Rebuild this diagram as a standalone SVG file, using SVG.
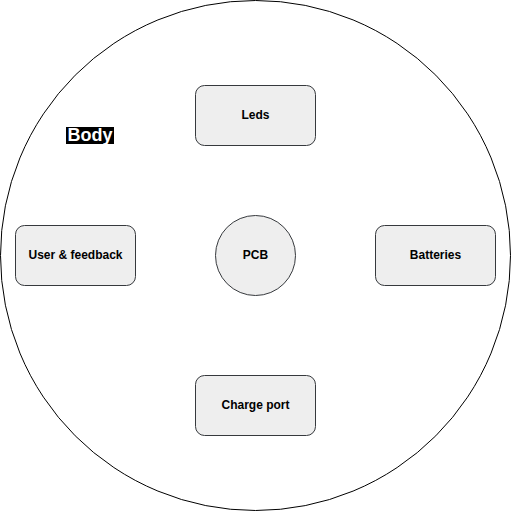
<svg xmlns="http://www.w3.org/2000/svg" width="511" height="511" viewBox="0 0 511 511">
<style>
.node{fill:#eeeeee;stroke:#36393d;stroke-width:1}
.lbl{font-family:"Liberation Sans",Arial,sans-serif;font-size:12px;font-weight:bold;fill:#000;text-anchor:middle;dominant-baseline:central}
</style>
<rect width="511" height="511" fill="#fff"/>
<g id="body">
<circle cx="255.5" cy="255.5" r="255" fill="#fff" stroke="#000" stroke-width="1"/>
<rect x="66" y="127" width="48" height="17" fill="#000"/>
<text x="90" y="135" font-family="Liberation Sans,Arial,sans-serif" font-size="18" font-weight="bold" fill="#fff" text-anchor="middle" dominant-baseline="central">Body</text>
</g>
<g id="connectors"></g>
<g id="leds">
<rect class="node" x="195.5" y="85.5" width="120" height="60" rx="9"/>
<text class="lbl" x="255.5" y="114.5">Leds</text>
</g>
<g id="user-feedback">
<rect class="node" x="15.5" y="225.5" width="120" height="60" rx="9"/>
<text class="lbl" x="75.5" y="254.5">User &amp; feedback</text>
</g>
<g id="pcb">
<circle class="node" cx="255.5" cy="255.5" r="40"/>
<text class="lbl" x="255.5" y="254.5">PCB</text>
</g>
<g id="batteries">
<rect class="node" x="375.5" y="225.5" width="120" height="60" rx="9"/>
<text class="lbl" x="435.5" y="254.5">Batteries</text>
</g>
<g id="charge-port">
<rect class="node" x="195.5" y="375.5" width="120" height="60" rx="9"/>
<text class="lbl" x="255.5" y="404.5">Charge port</text>
</g>
</svg>
